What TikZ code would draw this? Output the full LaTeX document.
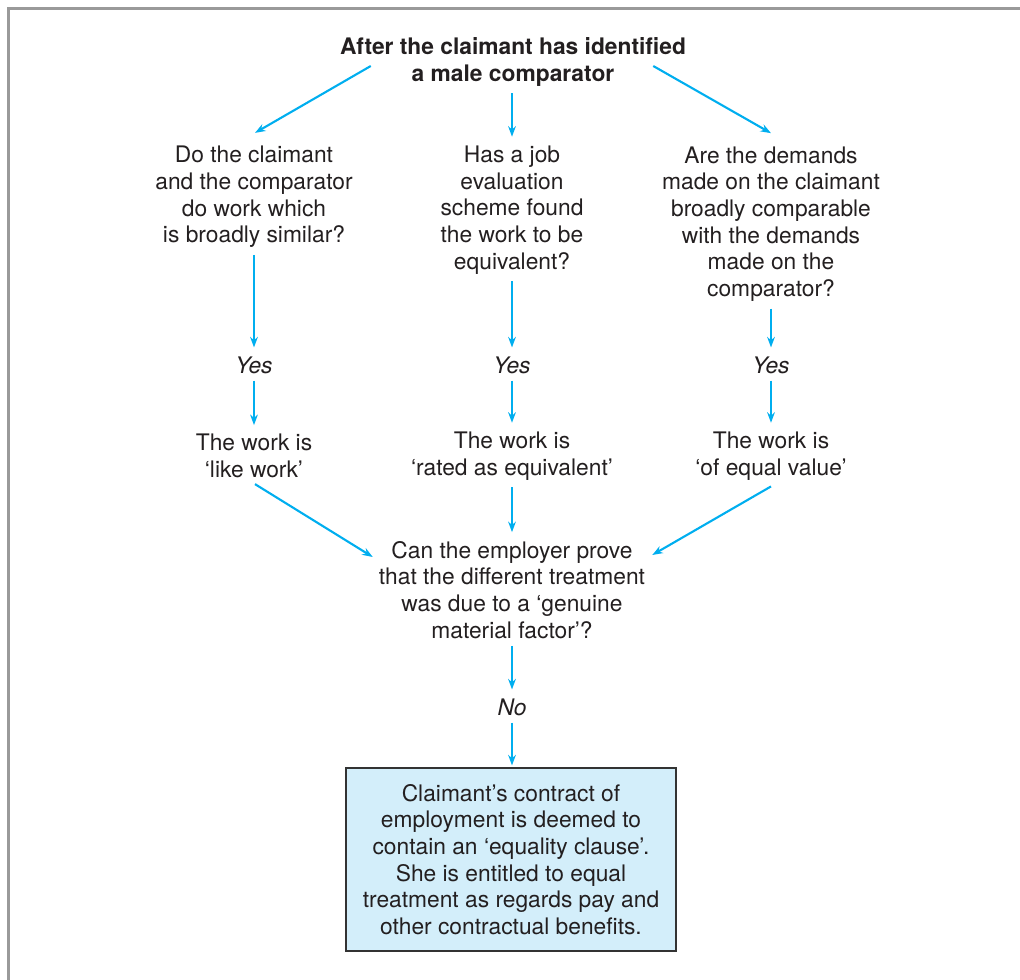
\documentclass[tikz,border=0pt]{standalone}
\usepackage{fontspec}
\setmainfont{TeX Gyre Heros}
\usepackage{xcolor}
\usepackage{tikz}
\usetikzlibrary{arrows.meta}
\definecolor{flowcyan}{HTML}{00AEEF}
\definecolor{boxblue}{HTML}{D3EEFA}
\definecolor{inkgrey}{HTML}{231F20}
\definecolor{framegrey}{HTML}{9A9A9A}
\begin{document}
\begin{tikzpicture}[x=0.025cm,y=-0.025cm,
  txt/.style={align=center,inner sep=0pt,text=inkgrey,font=\fontsize{16.2}{19}\selectfont},
  ans/.style={txt,font=\fontsize{16.2}{19}\selectfont\itshape},
  flow/.style={-{Stealth[length=7.5pt,width=5.5pt]},flowcyan,line width=1.5pt,shorten <=0.17cm,shorten >=0.22cm},
  slant/.style={-{Stealth[length=7.5pt,width=5.5pt]},flowcyan,line width=1.5pt},
  result/.style={txt,draw=black!80,fill=boxblue,line width=0.8pt,minimum width=8.25cm,minimum height=4.575cm}]
\useasboundingbox (0,0) rectangle (1020,980);
\draw[framegrey,line width=1.6pt](8.5,980)--(8.5,8.5)--(1020,8.5);
% top
\node[txt,font=\fontsize{16.2}{19}\selectfont\bfseries](title) at (513,62){After the claimant has identified\\a male comparator};
% three questions
\node[txt](q1) at (254,197){Do the claimant\\and the comparator\\do work which\\is broadly similar?};
\node[txt](q2) at (512,210){Has a job\\evaluation\\scheme found\\the work to be\\equivalent?};
\node[txt](q3) at (771,224){Are the demands\\made on the claimant\\broadly comparable\\with the demands\\made on the\\comparator?};
\node[ans](yes1) at (254,365){Yes};
\node[ans](yes2) at (512,365){Yes};
\node[ans](yes3) at (771,365){Yes};
\node[txt](w1) at (254,456){The work is\\‘like work’};
\node[txt](w2) at (512,456){The work is\\‘rated as equivalent’};
\node[txt](w3) at (771,456){The work is\\‘of equal value’};
% defence
\node[txt](can) at (512,590){Can the employer prove\\that the different treatment\\was due to a ‘genuine\\material factor’?};
\node[ans](no) at (512,707){No};
\node[result](clause) at (511,859.5){Claimant’s contract of\\employment is deemed to\\contain an ‘equality clause’.\\She is entitled to equal\\treatment as regards pay and\\other contractual benefits.};
% connectors
\draw[slant]([shift={(31,4)}]title.west)--([shift={(1,-13)}]q1.north);
\draw[flow](q2.north |- title.south)--(q2.north);
\draw[slant]([shift={(-33,4)}]title.east)--([shift={(0,-13)}]q3.north);
\draw[flow](q1.south)--(yes1.north);
\draw[flow](q2.south)--(yes2.north);
\draw[flow](q3.south)--(yes3.north);
\draw[flow](yes1.south)--(w1.north);
\draw[flow](yes2.south)--(w2.north);
\draw[flow](yes3.south)--(w3.north);
\draw[slant]([shift={(1,6)}]w1.south)--([shift={(-6,16)}]can.north west);
\draw[flow](w2.south)--(can.north);
\draw[slant]([shift={(0,6)}]w3.south)--([shift={(7,14)}]can.north east);
\draw[flow](can.south)--(no.north);
\draw[flow,shorten >=0.05cm](no.south)--(no.south |- clause.north);
\end{tikzpicture}
\end{document}
